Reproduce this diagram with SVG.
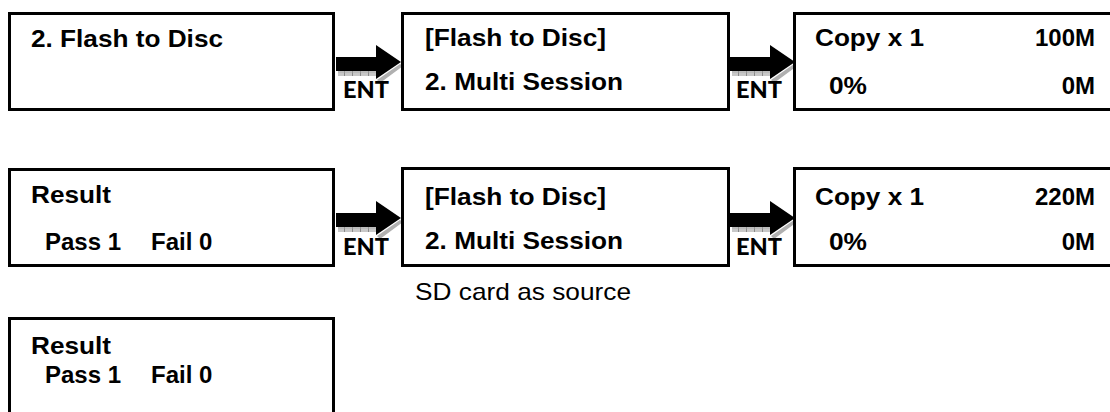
<svg xmlns="http://www.w3.org/2000/svg" xmlns:xlink="http://www.w3.org/1999/xlink" width="1110" height="412" viewBox="0 0 1110 412">
<style>
.box{fill:#fff;stroke:#000;stroke-width:3}
.t{font-family:"Liberation Sans",Arial,sans-serif;font-weight:bold;font-size:24px;fill:#000}
.n{font-family:"Liberation Sans",Arial,sans-serif;font-size:24px;fill:#000}
.ent{font-family:Lato,"Liberation Sans",sans-serif;font-weight:900;font-size:23px;fill:#000}
</style>
<defs>
<pattern id="hatch" width="8" height="6" patternUnits="userSpaceOnUse">
<rect width="8" height="6" fill="#c8c8c8"/>
<line x1="0.5" y1="0" x2="0.5" y2="6" stroke="#8a8a8a" stroke-width="1"/>
<line x1="0" y1="3" x2="8" y2="3" stroke="#a8a8a8" stroke-width="0.8"/>
</pattern>
<g id="arrow">
<rect x="2" y="26" width="38" height="5" fill="url(#hatch)"/>
<polygon points="41,35 64,19 67,21 44,38" fill="#b0b0b0"/>
<rect x="0" y="12" width="41" height="14" fill="#000"/>
<polygon points="40,0 65,17 40,34" fill="#000"/>
</g>
</defs>
<g id="connectors">
<use xlink:href="#arrow" transform="translate(336,45)"/>
<use xlink:href="#arrow" transform="translate(730,45)"/>
<use xlink:href="#arrow" transform="translate(336,201)"/>
<use xlink:href="#arrow" transform="translate(730,201)"/>
<text class="ent" x="343" y="98" textLength="46" lengthAdjust="spacingAndGlyphs">ENT</text>
<text class="ent" x="736" y="98" textLength="46" lengthAdjust="spacingAndGlyphs">ENT</text>
<text class="ent" x="343" y="255" textLength="46" lengthAdjust="spacingAndGlyphs">ENT</text>
<text class="ent" x="736" y="255" textLength="46" lengthAdjust="spacingAndGlyphs">ENT</text>
</g>
<g id="node-flash-to-disc">
<rect class="box" x="9.5" y="13.5" width="324" height="96"/>
<text class="t" x="31" y="47" textLength="192" lengthAdjust="spacingAndGlyphs">2. Flash to Disc</text>
</g>
<g id="node-multi-session-1">
<rect class="box" x="402.5" y="13.5" width="326" height="96"/>
<text class="t" x="425" y="46" textLength="181" lengthAdjust="spacingAndGlyphs">[Flash to Disc]</text>
<text class="t" x="425" y="90" textLength="198" lengthAdjust="spacingAndGlyphs">2. Multi Session</text>
</g>
<g id="node-copy-1">
<rect class="box" x="794.5" y="13.5" width="330" height="96"/>
<text class="t" x="815" y="46" textLength="109" lengthAdjust="spacingAndGlyphs">Copy x 1</text>
<text class="t" x="1095" y="46" text-anchor="end">100M</text>
<text class="t" x="829" y="94" textLength="38" lengthAdjust="spacingAndGlyphs">0%</text>
<text class="t" x="1095" y="94" text-anchor="end">0M</text>
</g>
<g id="node-result-1">
<rect class="box" x="9.5" y="169.5" width="324" height="96"/>
<text class="t" x="31" y="203" textLength="80" lengthAdjust="spacingAndGlyphs">Result</text>
<text class="t" y="250"><tspan x="45">Pass 1</tspan><tspan x="151">Fail 0</tspan></text>
</g>
<g id="node-multi-session-2">
<rect class="box" x="402.5" y="168.5" width="326" height="97"/>
<text class="t" x="425" y="205" textLength="181" lengthAdjust="spacingAndGlyphs">[Flash to Disc]</text>
<text class="t" x="425" y="249" textLength="198" lengthAdjust="spacingAndGlyphs">2. Multi Session</text>
<text class="n" x="415" y="300" textLength="216" lengthAdjust="spacingAndGlyphs">SD card as source</text>
</g>
<g id="node-copy-2">
<rect class="box" x="794.5" y="168.5" width="330" height="97"/>
<text class="t" x="815" y="205" textLength="109" lengthAdjust="spacingAndGlyphs">Copy x 1</text>
<text class="t" x="1095" y="205" text-anchor="end">220M</text>
<text class="t" x="829" y="250" textLength="38" lengthAdjust="spacingAndGlyphs">0%</text>
<text class="t" x="1095" y="250" text-anchor="end">0M</text>
</g>
<g id="node-result-2">
<rect class="box" x="9.5" y="318.5" width="324" height="110"/>
<text class="t" x="31" y="354" textLength="80" lengthAdjust="spacingAndGlyphs">Result</text>
<text class="t" y="383"><tspan x="45">Pass 1</tspan><tspan x="151">Fail 0</tspan></text>
</g>
</svg>
